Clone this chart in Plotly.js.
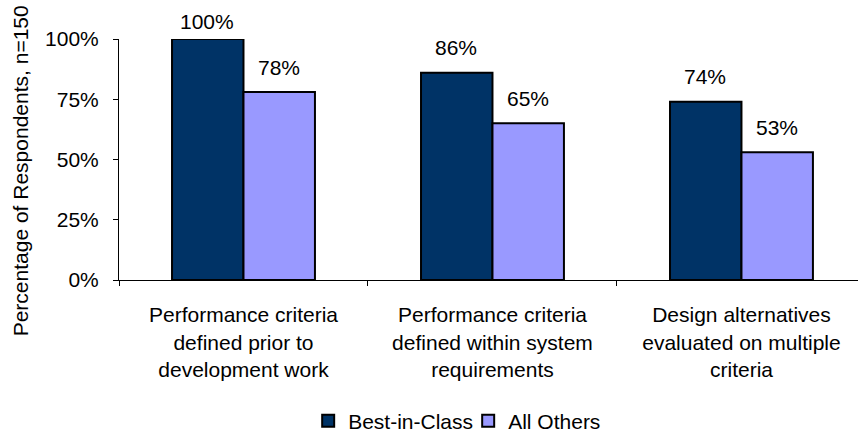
<!DOCTYPE html>
<html>
<head>
<meta charset="utf-8">
<script src="https://cdn.plot.ly/plotly-3.0.1.min.js"></script>
<style>html,body{margin:0;padding:0;background:#fff;}</style>
</head>
<body>
<div id="chart" style="width:858px;height:434px;"></div>
<script>
var categories = [
  "Performance criteria<br>defined prior to<br>development work",
  "Performance criteria<br>defined within system<br>requirements",
  "Design alternatives<br>evaluated on multiple<br>criteria"
];
var bestInClass = [1.00, 0.86, 0.74];
var allOthers = [0.78, 0.65, 0.53];
var seriesNames = ["Best-in-Class", "All Others"];
var yTickVals = [0, 0.25, 0.5, 0.75, 1];
var yTickText = ["0%", "25%", "50%", "75%", "100%"];

var FONT = "Arial, 'Liberation Sans', sans-serif";
var FS = 21;

var traces = [
  {type: "bar", name: seriesNames[0], x: categories, y: bestInClass,
   marker: {color: "#003366", line: {color: "#000000", width: 2}}, hoverinfo: "skip"},
  {type: "bar", name: seriesNames[1], x: categories, y: allOthers,
   marker: {color: "#9999FF", line: {color: "#000000", width: 2}}, hoverinfo: "skip"}
];

var annotations = [];
[bestInClass, allOthers].forEach(function (vals, si) {
  vals.forEach(function (v, i) {
    var shift = v >= 0.99 ? 18 : 25;
    annotations.push({
      x: categories[i], y: v, xref: "x", yref: "y",
      text: Math.round(v * 100) + "%", showarrow: false,
      xshift: si === 0 ? -36 : 36, yshift: shift,
      yanchor: "middle", xanchor: "center",
      font: {family: FONT, size: FS, color: "#000"}
    });
  });
});
annotations.push({
  text: "Percentage of Respondents, n=150", showarrow: false,
  xref: "paper", yref: "paper", x: -0.134, y: 0.455,
  xanchor: "center", yanchor: "middle", textangle: -90,
  font: {family: FONT, size: FS, color: "#000"}
});

var layout = {
  width: 858, height: 434,
  margin: {l: 119, r: 0, t: 39, b: 154, pad: 0, autoexpand: false},
  paper_bgcolor: "#ffffff", plot_bgcolor: "#ffffff",
  font: {family: FONT, size: FS, color: "#000"},
  barmode: "group", bargap: 0.426, bargroupgap: 0,
  showlegend: true,
  legend: {orientation: "h", xref: "paper", yref: "paper", x: 0.4725, y: -0.585,
           xanchor: "center", yanchor: "middle", font: {family: FONT, size: FS, color: "#000"},
           itemwidth: 30, entrywidth: 115, bgcolor: "rgba(0,0,0,0)"},
  xaxis: {type: "category", range: [-0.5, 2.468], showline: true, linecolor: "#000", linewidth: 1,
          ticks: "outside", tickson: "boundaries", ticklen: 5, tickcolor: "#000",
          showgrid: false, zeroline: false, fixedrange: true, ticklabelstandoff: 16,
          automargin: false,
          tickfont: {family: FONT, size: FS, color: "#000"}},
  yaxis: {range: [0, 1], tickvals: yTickVals, ticktext: yTickText, showline: true,
          linecolor: "#000", linewidth: 1, ticks: "outside", ticklen: 5, tickcolor: "#000",
          showgrid: false, zeroline: false, fixedrange: true, ticklabelstandoff: 10,
          automargin: false,
          tickfont: {family: FONT, size: FS, color: "#000"}},
  annotations: annotations
};

Plotly.newPlot("chart", traces, layout, {staticPlot: true, displayModeBar: false});
</script>
</body>
</html>
